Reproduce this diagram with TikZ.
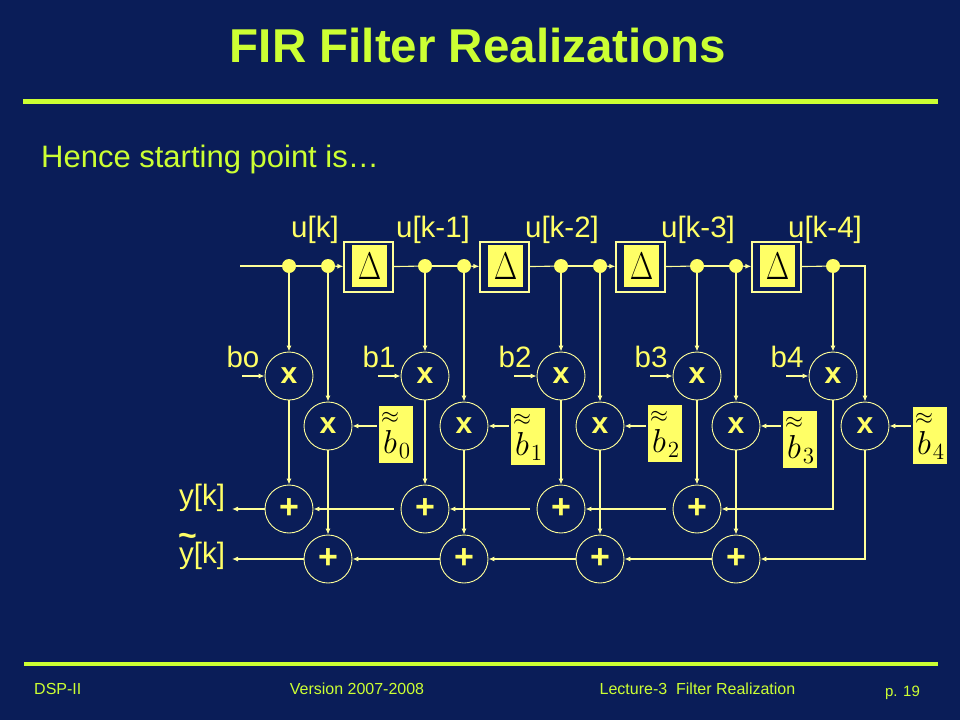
\documentclass[tikz,border=0pt]{standalone}
\usepackage{amsmath}
\usepackage{fontspec}
\setmainfont{Liberation Sans}
\usetikzlibrary{arrows.meta}
\definecolor{bg}{RGB}{10,29,88}
\definecolor{lime}{RGB}{204,255,51}
\definecolor{ln}{RGB}{255,255,153}
\definecolor{yel}{RGB}{255,255,102}
\begin{document}
\begin{tikzpicture}[x=1pt,y=-1pt,
  wire/.style={draw=ln,line width=1.1pt},
  arr/.style={-{Latex[length=6pt,width=5pt]}},
  dot/.style={circle,fill=yel,minimum size=14pt,inner sep=0pt},
  op/.style={circle,draw=ln,line width=0.9pt,minimum size=48pt,inner sep=0pt,text=yel,font=\fontsize{30}{30}\selectfont\bfseries},
  addop/.style={op,font=\fontsize{34}{34}\selectfont\bfseries},
  dout/.style={draw=ln,line width=1.3pt,minimum width=49pt,minimum height=50pt,inner sep=0pt},
  din/.style={fill=yel,minimum width=35pt,minimum height=42pt,inner sep=0pt,text=black,font=\fontsize{24.88}{25}\selectfont},
  tbox/.style={fill=yel,minimum width=34pt,minimum height=57pt,inner sep=0pt,text=black,font=\fontsize{20.74}{21}\selectfont},
  lab/.style={anchor=base,text=yel,font=\fontsize{29.5}{30}\selectfont,inner sep=0pt},
  foot/.style={anchor=base,text=lime,font=\fontsize{16}{16}\selectfont,inner sep=0pt}
]
\fill[bg] (0,0) rectangle (960,720);
\useasboundingbox (0,0) rectangle (960,720);

% title and rules
\node[anchor=base,text=lime,font=\fontsize{47.5}{48}\selectfont\bfseries,inner sep=0pt] (title) at (478,62) {FIR Filter Realizations};
\draw[lime,line width=4.5pt] (23,101.5) -- (938,101.5);
\node[anchor=base west,text=lime,font=\fontsize{31}{31}\selectfont,inner sep=0pt] (hence) at (41,167) {Hence starting point is\ldots};
\draw[lime,line width=4pt] (24,664) -- (938,664);
\node[foot,anchor=base west] (f1) at (34,694) {DSP-II};
\node[foot] (f2) at (357,694) {Version 2007-2008};
\node[foot] (f3) at (697.5,694) {Lecture-3\ \ Filter Realization};
\node[foot,font=\fontsize{15}{15}\selectfont] (f4) at (902.5,696) {p. 19};

% signal labels
\node[lab] (u0) at (315,237) {u[k]};
\node[lab] (u1) at (433,237) {u[k-1]};
\node[lab] (u2) at (562,237) {u[k-2]};
\node[lab] (u3) at (698,237) {u[k-3]};
\node[lab] (u4) at (825,237) {u[k-4]};

% top row nodes
\foreach \i in {0,...,4} {
  \pgfmathsetmacro\xa{289+136*\i}
  \node[dot] (d\i a) at (\xa,266) {};
  \node[op] (m\i a) at (\xa,376) {x};
}
\foreach \i in {0,...,3} {
  \pgfmathsetmacro\xb{328+136*\i}
  \pgfmathsetmacro\xd{368.5+136*\i}
  \pgfmathsetmacro\xaa{289+136*\i}
  \node[dot] (d\i b) at (\xb,266) {};
  \node[dout] (D\i) at (\xd,267) {};
  \node[din] (Di\i) at (\xd+1,266) {\scalebox{1.22}[1.55]{$\Delta$}};
  \node[op] (m\i b) at (\xb,426) {x};
  \node[addop] (a\i) at (\xaa,509) {+};
  \node[addop] (c\i) at (\xb,559) {+};
}
\node[op] (m4b) at (865,426) {x};

% coefficient labels
\foreach \i/\lab in {0/bo,1/b1,2/b2,3/b3,4/b4} {
  \pgfmathsetmacro\xa{289+136*\i}
  \node[lab] (bl\i) at (\xa-46,367) {\lab};
  \coordinate (bs\i) at (\xa-47,376);
  \draw[wire,arr] (bs\i) -- (m\i a);
}

% tilde coefficient boxes
\node[tbox] (t0) at (396,434) {\scalebox{1.6}{$\overset{\approx}{b}_0$}};
\node[tbox] (t1) at (528,436) {\scalebox{1.6}{$\overset{\approx}{b}_1$}};
\node[tbox] (t2) at (665,433) {\scalebox{1.6}{$\overset{\approx}{b}_2$}};
\node[tbox] (t3) at (800,439) {\scalebox{1.6}{$\overset{\approx}{b}_3$}};
\node[tbox] (t4) at (930,435) {\scalebox{1.6}{$\overset{\approx}{b}_4$}};
\foreach \i in {0,...,4} {
  \draw[wire,arr] ([xshift=-2pt]t\i.west |- m\i b) -- (m\i b);
}

% delay line
\coordinate (in) at (240,266);
\draw[wire] (in) -- (d0a);
\foreach \i in {0,...,3} {
  \pgfmathtruncatemacro\j{\i+1}
  \draw[wire] (d\i a) -- (d\i b);
  \draw[wire,arr] (d\i b) -- (D\i);
  \draw[wire] (D\i) -- (d\j a);
}
\draw[wire,arr] (d4a) -| (m4b);

% taps to multipliers
\foreach \i in {0,...,4} { \draw[wire,arr] (d\i a) -- (m\i a); }
\foreach \i in {0,...,3} {
  \draw[wire,arr] (d\i b) -- (m\i b);
  \draw[wire,arr] (m\i a) -- (a\i);
  \draw[wire,arr] (m\i b) -- (c\i);
}
\draw[wire,arr] (m4a) |- (a3);
\draw[wire,arr] (m4b) |- (c3);

% adder chains
\foreach \i in {1,2,3} {
  \pgfmathtruncatemacro\k{\i-1}
  \draw[wire,arr,shorten <=7pt] (a\i) -- (a\k);
  \draw[wire,arr] (c\i) -- (c\k);
}
\coordinate (yo) at (232,509);
\coordinate (yto) at (232,559);
\draw[wire,arr] (a0) -- (yo);
\draw[wire,arr] (c0) -- (yto);
\node[lab] (yl) at (202,505) {y[k]};
\node[lab] (ytl) at (202,563) {\makebox[0pt][l]{\kern-1pt\smash{\raisebox{17pt}{\fontsize{32}{32}\selectfont\bfseries\char"007E}}}y[k]};
\end{tikzpicture}
\end{document}
